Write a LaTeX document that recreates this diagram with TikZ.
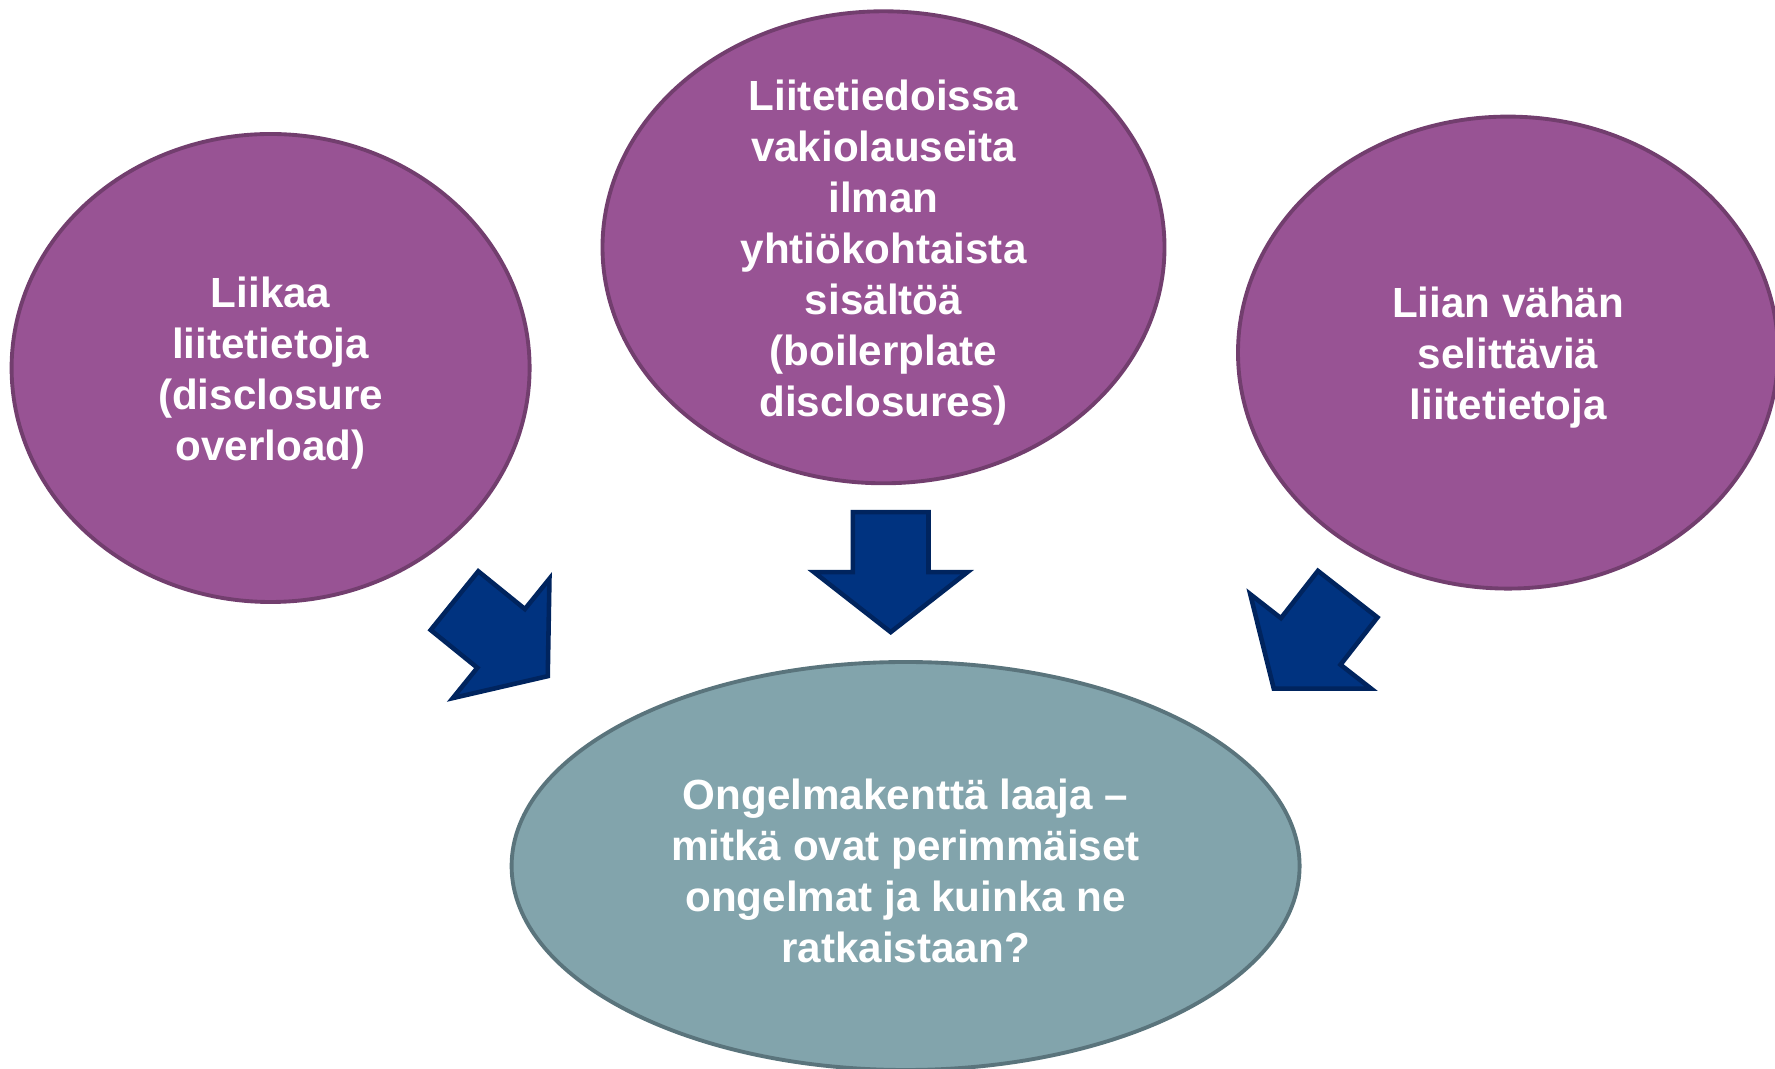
\documentclass[tikz,border=0pt]{standalone}
\usepackage{fontspec}
\setmainfont{Liberation Sans}
\usepackage{xcolor}
\usetikzlibrary{shapes,arrows.meta,positioning}

\definecolor{plum}{RGB}{152,83,148}
\definecolor{plumdark}{RGB}{114,62,110}
\definecolor{slate}{RGB}{130,164,172}
\definecolor{slatedark}{RGB}{90,116,124}
\definecolor{navy}{RGB}{0,51,128}
\definecolor{navydark}{RGB}{0,36,94}

\begin{document}
\begin{tikzpicture}[
  bubble/.style={ellipse, draw, line width=1.1pt, inner sep=0pt},
  issue/.style={bubble, fill=plum, draw=plumdark},
  goal/.style={bubble, fill=slate, draw=slatedark},
  btext/.style={align=center, text=white, yshift=-0.5mm,
                font=\fontsize{12}{14.5}\selectfont\bfseries},
  push/.style={single arrow, draw=navydark, fill=navy, line width=1.3pt,
               inner xsep=0pt, inner ysep=3.55mm, minimum height=12.0mm,
               single arrow head extend=3.9mm, single arrow tip angle=104},
]
  \clip (0,0) rectangle (17.75,-10.69);

  % ===== Problem bubbles =====
  \node[issue, minimum width=5.18cm, minimum height=4.68cm] (many) at (2.706,-3.68) {};
  \node[btext] at (many.center) {Liikaa\\ liitetietoja\\ (disclosure\\ overload)};

  \node[issue, minimum width=5.62cm, minimum height=4.72cm] (boiler) at (8.835,-2.473) {};
  \node[btext] at (boiler.center) {Liitetiedoissa\\ vakiolauseita\\ ilman\\ yhtiökohtaista\\ sisältöä\\ (boilerplate\\ disclosures)};

  \node[issue, minimum width=5.40cm, minimum height=4.72cm] (few) at (15.08,-3.526) {};
  \node[btext] at (few.center) {Liian vähän\\ selittäviä\\ liitetietoja};

  % ===== Outcome bubble =====
  \node[goal, minimum width=7.88cm, minimum height=4.08cm] (field) at (9.056,-8.66) {};
  \node[btext] at (field.center) {Ongelmakenttä laaja --\\ mitkä ovat perimmäiset\\ ongelmat ja kuinka ne\\ ratkaistaan?};

  % ===== Block arrows into the outcome =====
  \node[push, rotate=-39, anchor=tip] (aleft) at (5.50,-6.78) {};
  \node[push, rotate=-90, anchor=tip] (amid) at (8.907,-6.35) {};
  \node[push, rotate=-128, anchor=tip] (aright) at (12.72,-6.91) {};

\end{tikzpicture}
\end{document}
